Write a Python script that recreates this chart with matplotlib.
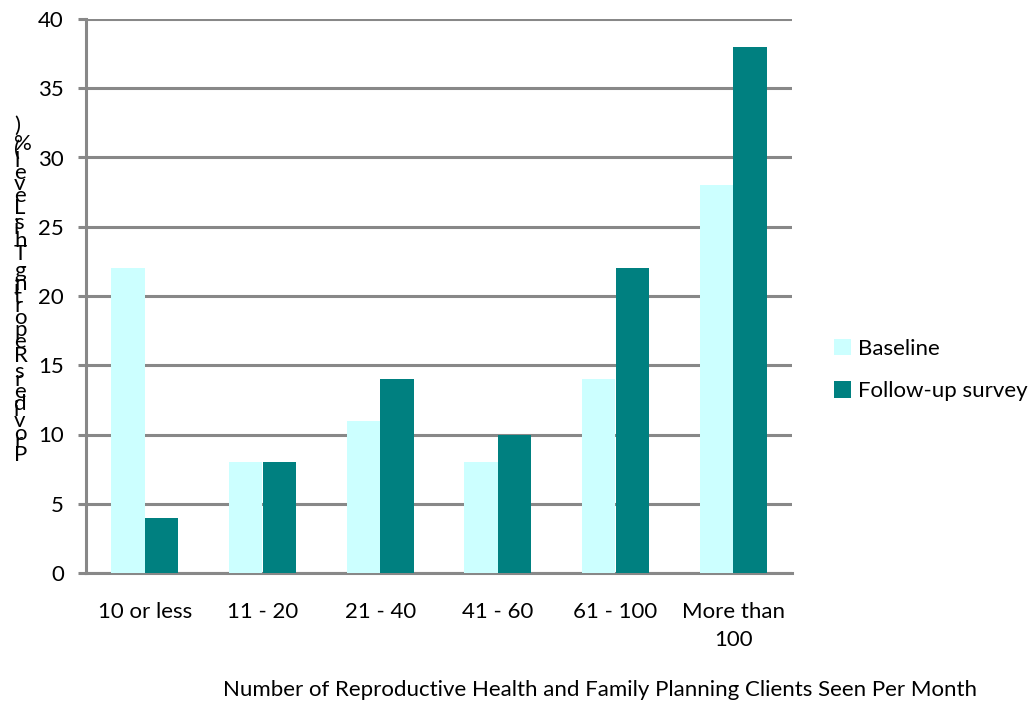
import matplotlib
matplotlib.use("Agg")
import matplotlib.pyplot as plt
import numpy as np

categories = ["10 or less", "11 - 20", "21 - 40", "41 - 60", "61 - 100", "More than\n100"]
baseline = [22, 8, 11, 8, 14, 28]
follow_up = [4, 8, 14, 10, 22, 38]
series_names = ["Baseline", "Follow-up survey"]
y_label = "Providers Reporting This Level (%)"
x_label = "Number of Reproductive Health and Family Planning Clients Seen Per Month"

FONT = "Lato"
FS = 16
GRID = "#888888"

plt.rcParams["font.family"] = [FONT, "DejaVu Sans"]

W, H = 1034, 702
fig = plt.figure(figsize=(W / 100, H / 100), dpi=100)
ax = fig.add_axes([86 / W, 1 - 573 / H, (792 - 86) / W, (573 - 19) / H])

x = np.arange(len(categories))
bw = 0.285
ax.bar(x - bw / 2, baseline, bw, color="#CCFFFF", label=series_names[0], zorder=3)
ax.bar(x + bw / 2, follow_up, bw, color="#008080", label=series_names[1], zorder=3)

ax.set_xlim(-0.5, len(categories) - 0.5)
ax.set_ylim(0, 40)
ax.set_yticks(np.arange(0, 41, 5))
ax.yaxis.grid(True, color=GRID, linewidth=2.2, zorder=1)
ax.set_axisbelow(True)
for s in ("top", "right"):
    ax.spines[s].set_visible(False)
for s in ("left", "bottom"):
    ax.spines[s].set_color(GRID)
    ax.spines[s].set_linewidth(2.2)
ax.tick_params(axis="y", length=6, width=2.2, color=GRID, labelsize=FS, pad=10)
ax.tick_params(axis="x", length=0, labelsize=FS, pad=21)
ax.set_xticks(x)
ax.set_xticklabels(categories, linespacing=1.5)

ax.legend(loc="center left", bbox_to_anchor=(814 / W, 1 - 370 / H), bbox_transform=fig.transFigure,
          frameon=False, fontsize=FS, handlelength=0.75, handleheight=0.75,
          handletextpad=0.35, labelspacing=1.0)

fig.text(600 / W, 1 - 690 / H, x_label, ha="center", va="center", fontsize=FS)

# Vertical axis title: upright glyphs stacked bottom-to-top along the text advance
fig.canvas.draw()
renderer = fig.canvas.get_renderer()
probe = fig.text(0, 0, "", fontsize=FS)

def text_width(s):
    probe.set_text(s + "x")
    w1 = probe.get_window_extent(renderer).width
    probe.set_text("x")
    w0 = probe.get_window_extent(renderer).width
    return w1 - w0

x0, y0 = 14, H - 461
for i, ch in enumerate(y_label):
    if ch == " ":
        continue
    off = text_width(y_label[:i])
    fig.text(x0 / W, (y0 + off) / H, ch, ha="left", va="baseline", fontsize=FS)
probe.remove()

fig.savefig("out.png", dpi=100)
